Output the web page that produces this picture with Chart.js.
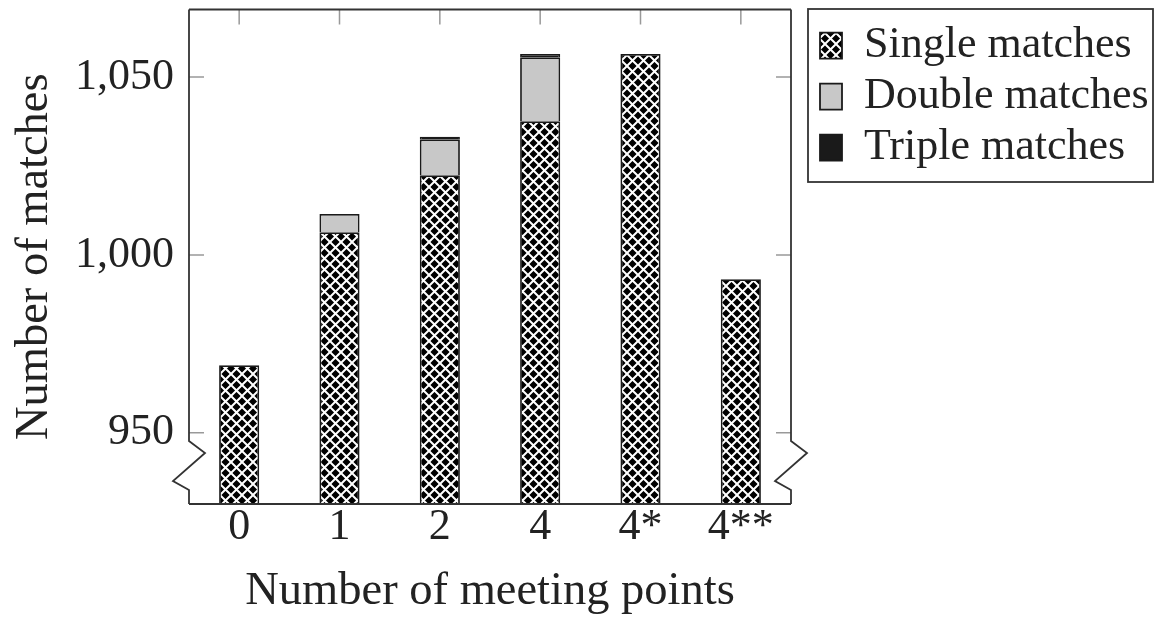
<!DOCTYPE html>
<html>
<head>
<meta charset="utf-8">
<script src="https://cdn.jsdelivr.net/npm/chart.js@4.4.1/dist/chart.umd.min.js"></script>
<style>
  html, body { margin: 0; padding: 0; background: #fff; }
</style>
</head>
<body>
<canvas id="barChart" width="1158" height="621"></canvas>
<script>
// data
const categories = ['0', '1', '2', '4', '4*', '4**'];
const singleMatches = [969.0, 1006.4, 1022.4, 1037.6, 1056.5, 993.2];
const doubleMatches = [null, 5.1, 10.1, 18.0, null, null];
const tripleMatches = [null, null, 0.7, 0.9, null, null];
const yTicks = [950, 1000, 1050];
const yMin = 930;
const yMax = 1069;

// black / white crosshatch fill
function makeHatch() {
  const c = document.createElement('canvas');
  c.width = 11;
  c.height = 11;
  const g = c.getContext('2d');
  g.fillStyle = '#000';
  g.fillRect(0, 0, 11, 11);
  g.strokeStyle = '#fff';
  g.lineWidth = 2;
  g.beginPath();
  g.moveTo(-1, -1); g.lineTo(12, 12);
  g.moveTo(12, -1); g.lineTo(-1, 12);
  g.stroke();
  return g.createPattern(c, 'repeat');
}

Chart.defaults.font.family = "'Liberation Serif', 'Times New Roman', serif";
Chart.defaults.font.size = 44;
Chart.defaults.color = '#222';

// frame, inner ticks and axis breaks (pgfplots look)
const framePlugin = {
  id: 'frame',
  beforeDatasetsDraw(chart) {
    const { ctx, chartArea: a, scales } = chart;
    ctx.save();
    ctx.strokeStyle = '#999';
    ctx.lineWidth = 1.5;
    ctx.beginPath();
    scales.x.ticks.forEach((t, i) => {
      const x = scales.x.getPixelForTick(i);
      ctx.moveTo(x, a.top); ctx.lineTo(x, a.top + 15);
      ctx.moveTo(x, a.bottom); ctx.lineTo(x, a.bottom - 15);
    });
    yTicks.forEach(v => {
      const y = scales.y.getPixelForValue(v);
      ctx.moveTo(a.left, y); ctx.lineTo(a.left + 15, y);
      ctx.moveTo(a.right, y); ctx.lineTo(a.right - 15, y);
    });
    ctx.stroke();
    ctx.restore();
  },
  afterDatasetsDraw(chart) {
    const { ctx, chartArea: a } = chart;
    ctx.save();
    ctx.strokeStyle = '#333';
    ctx.lineWidth = 1.8;
    ctx.lineJoin = 'miter';
    const side = x => {
      ctx.moveTo(x, a.top);
      ctx.lineTo(x, a.bottom - 63);
      ctx.lineTo(x + 16, a.bottom - 51);
      ctx.lineTo(x - 16, a.bottom - 23);
      ctx.lineTo(x, a.bottom - 14);
      ctx.lineTo(x, a.bottom);
    };
    ctx.beginPath();
    side(a.left);
    side(a.right);
    ctx.moveTo(a.left, a.top); ctx.lineTo(a.right, a.top);
    ctx.moveTo(a.left, a.bottom); ctx.lineTo(a.right, a.bottom);
    ctx.stroke();
    // legend box
    const lg = chart.legend;
    ctx.lineWidth = 1.8;
    ctx.strokeRect(lg.left - 5, 9, 345, 173);
    ctx.restore();
  }
};

const ctx = document.getElementById('barChart').getContext('2d');
const hatch = makeHatch();

new Chart(ctx, {
  type: 'bar',
  data: {
    labels: categories,
    datasets: [
      { label: 'Single matches', data: singleMatches, backgroundColor: hatch, borderColor: '#1a1a1a', borderWidth: 1.8 },
      { label: 'Double matches', data: doubleMatches, backgroundColor: '#c8c8c8', borderColor: '#1a1a1a', borderWidth: 1.8 },
      { label: 'Triple matches', data: tripleMatches, backgroundColor: '#1a1a1a', borderColor: '#1a1a1a', borderWidth: 1.8 },
    ],
  },
  options: {
    responsive: false,
    animation: false,
    layout: { padding: { top: 9.5, right: 0, bottom: 0, left: 0 } },
    datasets: { bar: { categoryPercentage: 1, barPercentage: 0.4 } },
    plugins: {
      tooltip: { enabled: false },
      legend: {
        position: 'right',
        align: 'start',
        maxWidth: 345,
        title: { display: true, text: ' ', font: { size: 1 }, padding: 3 },
        labels: {
          boxWidth: 22,
          boxHeight: 26,
          padding: 7,
          textAlign: 'left',
          color: '#222',
          font: { size: 44 },
        },
      },
    },
    scales: {
      x: {
        stacked: true,
        grid: { display: false },
        border: { display: false },
        ticks: { padding: -7, font: { size: 44, lineHeight: 1 } },
        title: { display: true, text: 'Number of meeting points', font: { size: 46.5 }, padding: { top: 0, bottom: 1 } },
        afterFit(scale) { scale.height = 117; },
      },
      y: {
        stacked: true,
        min: yMin,
        max: yMax,
        grid: { display: false },
        border: { display: false },
        ticks: {
          padding: 7,
          callback: v => v.toLocaleString('en-US'),
        },
        afterBuildTicks(scale) { scale.ticks = yTicks.map(v => ({ value: v })); },
        title: { display: true, text: 'Number of matches', font: { size: 46.5 }, padding: { top: 7, bottom: 0 } },
        afterFit(scale) {
          scale.width = 189;
          scale.paddingTop = 0;
          scale.paddingBottom = 0;
        },
      },
      yRight: {
        position: 'right',
        min: yMin,
        max: yMax,
        grid: { display: false },
        border: { display: false },
        ticks: { display: false },
        afterFit(scale) {
          scale.width = 22;
          scale.paddingTop = 0;
          scale.paddingBottom = 0;
        },
      },
    },
  },
  plugins: [framePlugin],
});
</script>
</body>
</html>
